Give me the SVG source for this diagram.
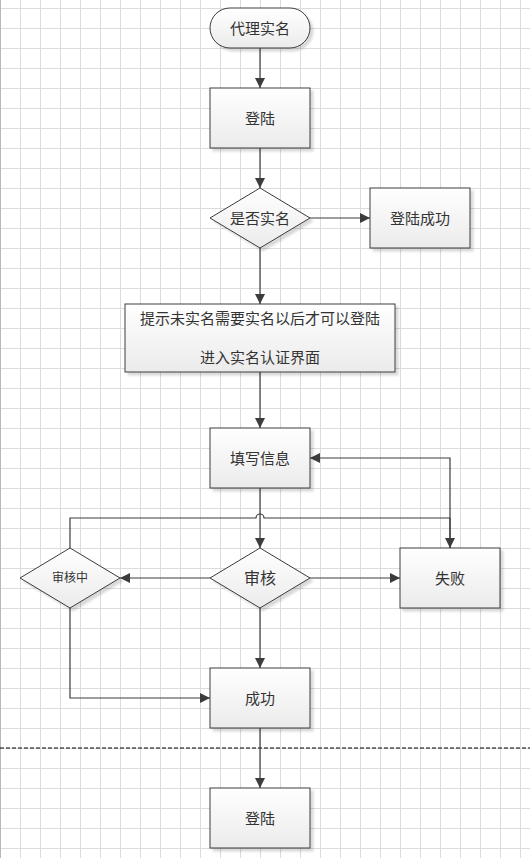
<svg xmlns="http://www.w3.org/2000/svg" width="530" height="858" viewBox="0 0 530 858">
<defs>
<pattern id="grid" x="0" y="8" width="20" height="20" patternUnits="userSpaceOnUse">
<path d="M0.5 0V20M0 0.5H20" fill="none" stroke="#dcdcdc" stroke-width="1"/>
</pattern>
<linearGradient id="fillg" x1="0" y1="0" x2="0" y2="1">
<stop offset="0" stop-color="#ffffff"/>
<stop offset="1" stop-color="#ebebeb"/>
</linearGradient>
<marker id="arr" viewBox="0 0 10 10" refX="10" refY="5" markerWidth="10" markerHeight="10" markerUnits="userSpaceOnUse" orient="auto">
<path d="M0 0L10 5L0 10z" fill="#3c3c3c"/>
</marker>
<filter id="sh" x="-10%" y="-10%" width="130%" height="130%">
<feDropShadow dx="3" dy="3" stdDeviation="1.2" flood-color="#000" flood-opacity="0.15"/>
</filter>
</defs>
<style>
.n{fill:url(#fillg);stroke:#3c3c3c;stroke-width:1;filter:url(#sh)}
.t{font-family:"Liberation Sans","Noto Sans CJK SC",sans-serif;font-size:15px;fill:#333;text-anchor:middle;dominant-baseline:central}
.c{fill:none;stroke:#3c3c3c;stroke-width:1.2}
</style>
<rect width="530" height="858" fill="#fff"/>
<rect width="530" height="858" fill="url(#grid)"/>
<line x1="0.5" y1="0" x2="0.5" y2="858" stroke="#b8b8b8"/>
<line x1="0" y1="748" x2="530" y2="748" stroke="#000" stroke-width="1" stroke-dasharray="4 2"/>

<g id="connectors">
<path class="c" d="M260 48V88" marker-end="url(#arr)"/>
<path class="c" d="M260 148V188" marker-end="url(#arr)"/>
<path class="c" d="M310 218H370" marker-end="url(#arr)"/>
<path class="c" d="M260 248V304" marker-end="url(#arr)"/>
<path class="c" d="M260 372V428" marker-end="url(#arr)"/>
<path class="c" d="M260 488V548" marker-end="url(#arr)"/>
<path class="c" d="M210 578H120" marker-end="url(#arr)"/>
<path class="c" d="M310 578H400" marker-end="url(#arr)"/>
<path class="c" d="M260 608V668" marker-end="url(#arr)"/>
<path class="c" d="M70 608V698H210" marker-end="url(#arr)"/>
<path class="c" d="M70 548V518H256A4 4 0 0 1 264 518H450V548" marker-end="url(#arr)"/>
<path class="c" d="M450 548V458H310" marker-end="url(#arr)"/>
<path class="c" d="M260 728V788" marker-end="url(#arr)"/>
</g>

<g id="start">
<rect class="n" x="210" y="8" width="100" height="40" rx="20" ry="20"/>
<text class="t" x="260" y="28">代理实名</text>
</g>
<g id="login1">
<rect class="n" x="210" y="88" width="100" height="60"/>
<text class="t" x="260" y="118">登陆</text>
</g>
<g id="isReal">
<path class="n" d="M260 188L310 218L260 248L210 218Z"/>
<text class="t" x="260" y="218">是否实名</text>
</g>
<g id="loginOk">
<rect class="n" x="370" y="188" width="100" height="60"/>
<text class="t" x="420" y="218">登陆成功</text>
</g>
<g id="prompt">
<rect class="n" x="125" y="304" width="270" height="68"/>
<text class="t" x="260" y="318">提示未实名需要实名以后才可以登陆</text>
<text class="t" x="260" y="357">进入实名认证界面</text>
</g>
<g id="fill">
<rect class="n" x="210" y="428" width="100" height="60"/>
<text class="t" x="260" y="458">填写信息</text>
</g>
<g id="review">
<path class="n" d="M260 548L310 578L260 608L210 578Z"/>
<text class="t" x="260" y="578" style="font-size:16px">审核</text>
</g>
<g id="reviewing">
<path class="n" d="M70 548L120 578L70 608L20 578Z"/>
<text class="t" x="70" y="578" style="font-size:12px">审核中</text>
</g>
<g id="fail">
<rect class="n" x="400" y="548" width="100" height="60"/>
<text class="t" x="450" y="578">失败</text>
</g>
<g id="success">
<rect class="n" x="210" y="668" width="100" height="60"/>
<text class="t" x="260" y="698">成功</text>
</g>
<g id="login2">
<rect class="n" x="210" y="788" width="100" height="60"/>
<text class="t" x="260" y="818">登陆</text>
</g>
</svg>
